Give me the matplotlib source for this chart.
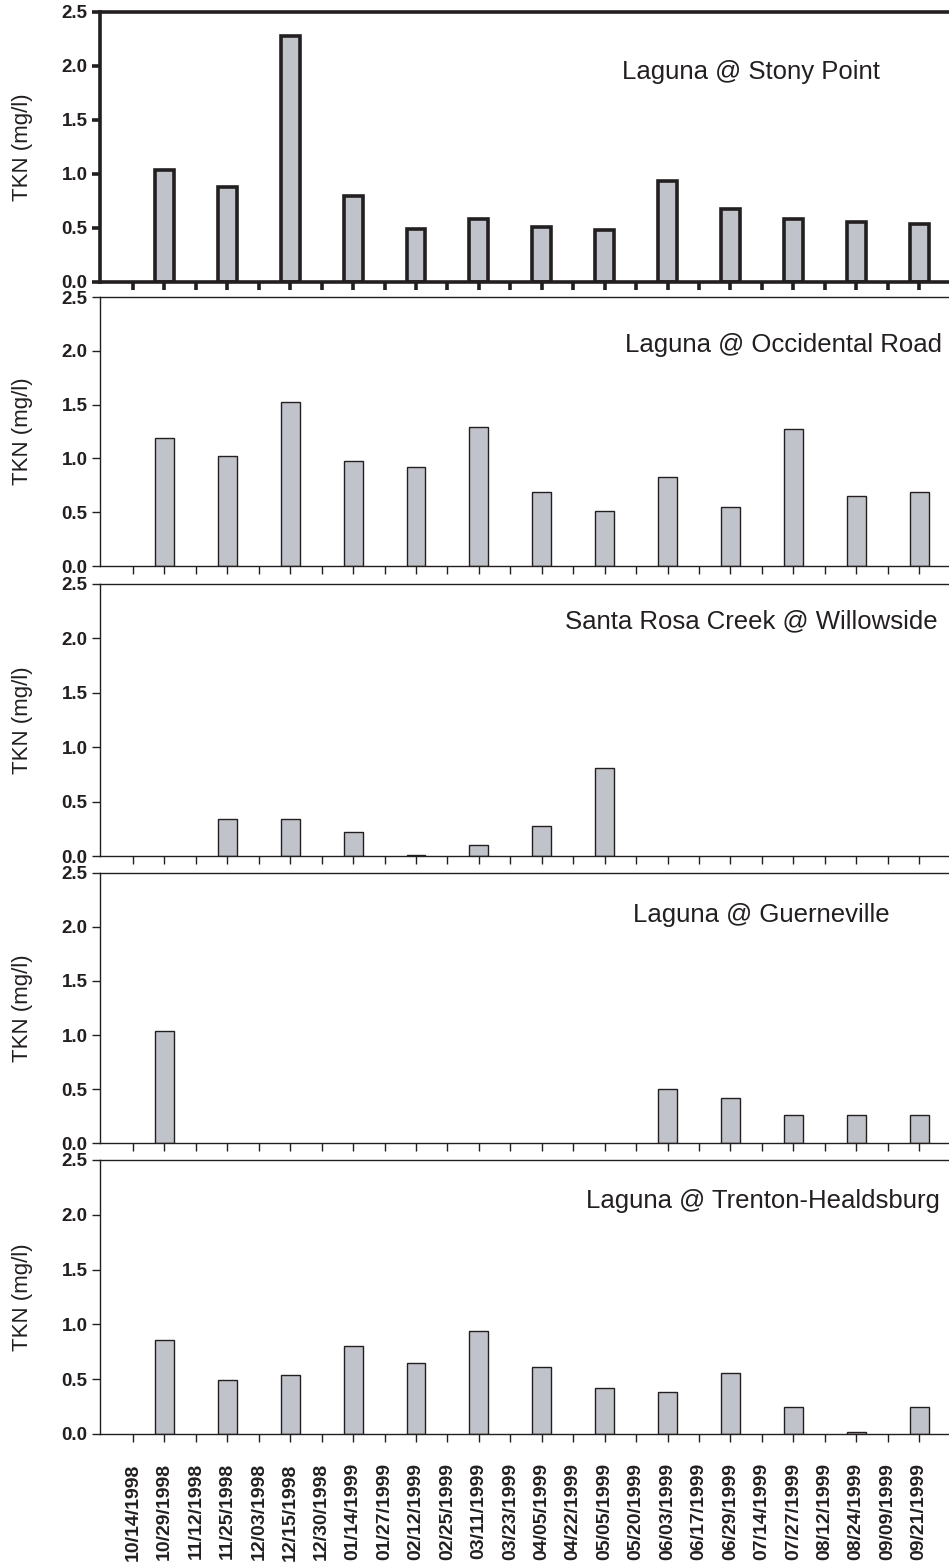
import matplotlib
matplotlib.use("Agg")
import matplotlib.pyplot as plt
import numpy as np

plt.rcParams["font.family"] = ["Liberation Sans", "DejaVu Sans"]

dates = ["10/14/1998", "10/29/1998", "11/12/1998", "11/25/1998", "12/03/1998",
         "12/15/1998", "12/30/1998", "01/14/1999", "01/27/1999", "02/12/1999",
         "02/25/1999", "03/11/1999", "03/23/1999", "04/05/1999", "04/22/1999",
         "05/05/1999", "05/20/1999", "06/03/1999", "06/17/1999", "06/29/1999",
         "07/14/1999", "07/27/1999", "08/12/1999", "08/24/1999", "09/09/1999",
         "09/21/1999"]

# sampled dates (every other date in the list)
sample_dates = ["10/29/1998", "11/25/1998", "12/15/1998", "01/14/1999", "02/12/1999",
                "03/11/1999", "04/05/1999", "05/05/1999", "06/03/1999", "06/29/1999",
                "07/27/1999", "08/24/1999", "09/21/1999"]

stony_point = [1.04, 0.88, 2.28, 0.80, 0.49, 0.58, 0.51, 0.48, 0.935, 0.68, 0.58, 0.56, 0.54]
occidental = [1.19, 1.02, 1.52, 0.98, 0.92, 1.29, 0.69, 0.51, 0.83, 0.55, 1.27, 0.65, 0.69]
willowside = [0.0, 0.34, 0.34, 0.22, 0.01, 0.10, 0.28, 0.81, 0.0, 0.0, 0.0, 0.0, 0.0]
guerneville = [1.04, 0.0, 0.0, 0.0, 0.0, 0.0, 0.0, 0.0, 0.50, 0.42, 0.26, 0.26, 0.26]
trenton = [0.86, 0.49, 0.54, 0.80, 0.65, 0.94, 0.61, 0.42, 0.38, 0.56, 0.25, 0.02, 0.25]

titles = ["Laguna @ Stony Point", "Laguna @ Occidental Road",
          "Santa Rosa Creek @ Willowside", "Laguna @ Guerneville",
          "Laguna @ Trenton-Healdsburg"]
series = [stony_point, occidental, willowside, guerneville, trenton]

# panel boxes in pixels (top, bottom) and title anchor (right edge, baseline) in pixels
panels_px = [(12, 282), (297, 566), (584, 856), (873, 1143), (1160, 1434)]
title_px = [(880, 79), (942, 352), (938, 628), (890, 922), (940, 1208)]

W, H = 949, 1565
fig = plt.figure(figsize=(W / 100, H / 100), dpi=100)

x_all = np.arange(len(dates))
x_bar = [dates.index(d) for d in sample_dates]
fill = "#c1c3ca"
edge = "#231f20"

for i, (vals, title) in enumerate(zip(series, titles)):
    top, bot = panels_px[i]
    ax = fig.add_axes([100 / W, 1 - bot / H, 1 - 100 / W, (bot - top) / H])
    lw = 2.6 if i == 0 else 1.0
    vals = np.array(vals)
    mask = vals > 0
    ax.bar(np.array(x_bar)[mask], vals[mask], width=0.6, color=fill,
           edgecolor=edge, linewidth=lw, zorder=2)
    ax.set_xlim(-1.05, 25.95)
    ax.set_ylim(0, 2.5)
    ax.set_yticks([0, 0.5, 1.0, 1.5, 2.0, 2.5])
    ax.set_yticklabels(["0.0", "0.5", "1.0", "1.5", "2.0", "2.5"],
                       fontsize=13.5, fontweight="bold", color=edge)
    ax.set_xticks(x_all)
    if i == 4:
        ax.set_xticklabels(dates, rotation=90, fontsize=14, fontweight="bold",
                           color=edge)
        ax.tick_params(axis="x", pad=15)
    else:
        ax.set_xticklabels([])
    for s in ["left", "top", "bottom"]:
        ax.spines[s].set_linewidth(lw)
        ax.spines[s].set_color(edge)
    ax.spines["right"].set_visible(False)
    ax.tick_params(axis="both", direction="out", length=6, width=lw, colors=edge)
    ax.tick_params(axis="y", pad=3)
    ax.set_ylabel("TKN (mg/l)", fontsize=16, color=edge)
    ax.yaxis.set_label_coords(-0.079, 0.5)
    tx, ty = title_px[i]
    fig.text(tx / W, 1 - ty / H, title, ha="right", va="baseline",
             fontsize=18.5, color=edge)

fig.savefig("out.png", dpi=100)
